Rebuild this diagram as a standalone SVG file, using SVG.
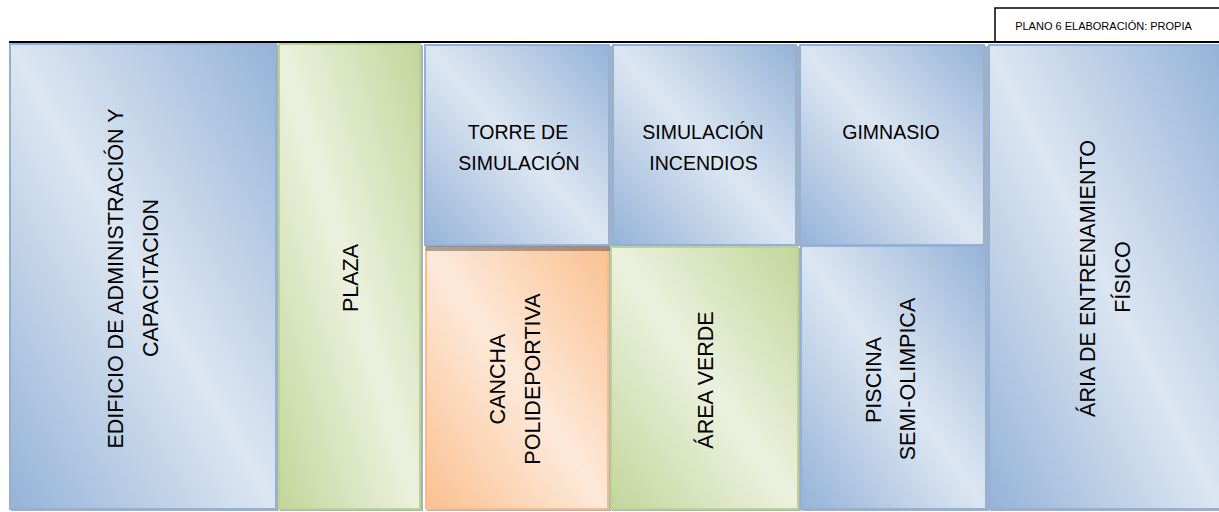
<svg xmlns="http://www.w3.org/2000/svg" width="1219" height="512" viewBox="0 0 1219 512">
  <defs>
    <linearGradient id="gBlue" x1="1" y1="0" x2="0" y2="1">
      <stop offset="0" stop-color="#95b3d7"/>
      <stop offset="0.5" stop-color="#dce6f2"/>
      <stop offset="1" stop-color="#95b3d7"/>
    </linearGradient>
    <linearGradient id="gGreen" x1="1" y1="0" x2="0" y2="1">
      <stop offset="0" stop-color="#c3d69b"/>
      <stop offset="0.5" stop-color="#ebf1de"/>
      <stop offset="1" stop-color="#c3d69b"/>
    </linearGradient>
    <linearGradient id="gOrange" x1="1" y1="0" x2="0" y2="1">
      <stop offset="0" stop-color="#fac090"/>
      <stop offset="0.5" stop-color="#fde9d9"/>
      <stop offset="1" stop-color="#fac090"/>
    </linearGradient>
  </defs>
  <style>
    .sh { fill: #1f2f45; fill-opacity: 0.38; }
    .blue { fill: url(#gBlue); stroke: #93b0d8; stroke-width: 2; }
    .green { fill: url(#gGreen); stroke: #bcd292; stroke-width: 2; }
    .orange { fill: url(#gOrange); stroke: #f8bb8c; stroke-width: 2; }
    .vt { font-family: "Liberation Sans", Arial, sans-serif; font-size: 21.5px; fill: #000; text-anchor: middle; }
    .ht { font-family: "Liberation Sans", Arial, sans-serif; font-size: 19.5px; fill: #000; text-anchor: middle; }
    .lbl { font-family: "Liberation Sans", Arial, sans-serif; font-size: 11px; fill: #000; text-anchor: middle; }
  </style>
  <rect width="1219" height="512" fill="#ffffff"/>

  <g id="label">
    <rect x="995" y="8" width="230" height="34" fill="#ffffff" stroke="#000" stroke-width="1.5"/>
    <text class="lbl" x="1103.5" y="30">PLANO 6 ELABORACIÓN: PROPIA</text>
  </g>

  <g id="edificio">
    <rect class="sh" x="11" y="45" width="268" height="466"/>
    <rect class="blue" x="10" y="44" width="266" height="465"/>
    <text class="vt" transform="translate(123,278.5) rotate(-90)">EDIFICIO DE ADMINISTRACIÓN Y</text>
    <text class="vt" transform="translate(158,278) rotate(-90)">CAPACITACION</text>
  </g>

  <g id="plaza">
    <rect class="sh" x="280" y="45" width="143" height="466"/>
    <rect class="green" x="279" y="44" width="141" height="465"/>
    <text class="vt" transform="translate(358,278) rotate(-90)">PLAZA</text>
  </g>

  <g id="cancha">
    <rect class="sh" x="427" y="247" width="184" height="264"/>
    <rect class="orange" x="426" y="246" width="182" height="263"/>
    <text class="vt" transform="translate(505,379) rotate(-90)">CANCHA</text>
    <text class="vt" transform="translate(540,379) rotate(-90)">POLIDEPORTIVA</text>
  </g>

  <g id="torre">
    <rect class="sh" x="426" y="46" width="188" height="205"/>
    <rect class="blue" x="425" y="45" width="184" height="200"/>
    <text class="ht" x="518" y="139">TORRE DE</text>
    <text class="ht" x="519" y="170">SIMULACIÓN</text>
  </g>

  <g id="simulacion-incendios">
    <rect class="sh" x="614" y="46" width="185" height="201"/>
    <rect class="blue" x="613" y="45" width="183" height="200"/>
    <text class="ht" x="703" y="139">SIMULACIÓN</text>
    <text class="ht" x="703.5" y="170">INCENDIOS</text>
  </g>

  <g id="area-verde">
    <rect class="sh" x="612" y="248" width="189" height="263"/>
    <rect class="green" x="611" y="247" width="187" height="262"/>
    <text class="vt" transform="translate(713,380) rotate(-90)">ÁREA VERDE</text>
  </g>

  <g id="gimnasio">
    <rect class="sh" x="801" y="46" width="188" height="201"/>
    <rect class="blue" x="800" y="45" width="184" height="200"/>
    <text class="ht" x="891" y="139">GIMNASIO</text>
  </g>

  <g id="piscina">
    <rect class="sh" x="802" y="247" width="187" height="264"/>
    <rect class="blue" x="801" y="246" width="185" height="263"/>
    <text class="vt" transform="translate(881,380) rotate(-90)">PISCINA</text>
    <text class="vt" transform="translate(915,379) rotate(-90)">SEMI-OLIMPICA</text>
  </g>

  <g id="aria-entrenamiento">
    <rect class="sh" x="990" y="46" width="231" height="465"/>
    <rect class="blue" x="989" y="45" width="231" height="464"/>
    <text class="vt" transform="translate(1095,278.5) rotate(-90)">ÁRIA DE ENTRENAMIENTO</text>
    <text class="vt" transform="translate(1130,277) rotate(-90)">FÍSICO</text>
  </g>

  <g id="connectors"></g>

  <line x1="9" y1="42" x2="1219" y2="42" stroke="#000" stroke-width="2"/>
</svg>
